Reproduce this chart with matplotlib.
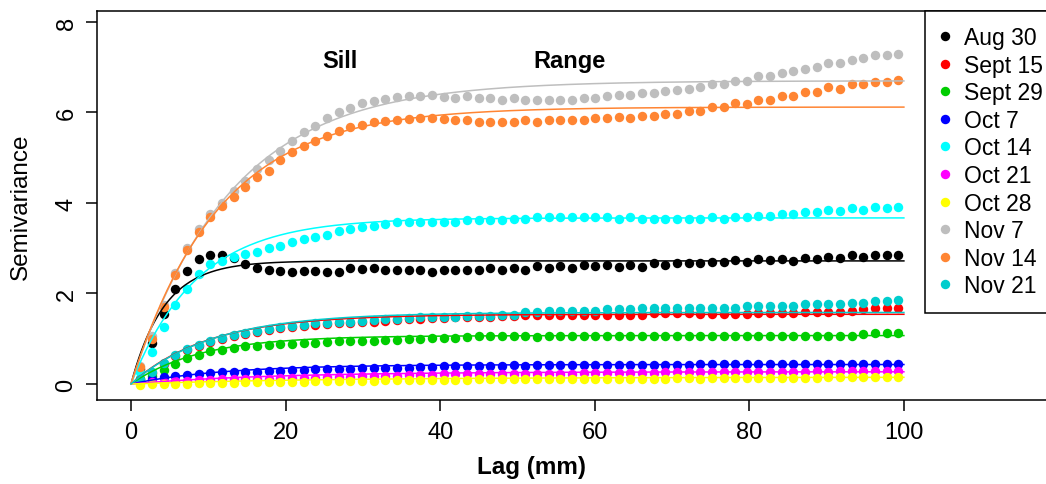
import numpy as np
import matplotlib
matplotlib.use('Agg')
import matplotlib.pyplot as plt
from matplotlib.lines import Line2D

plt.rcParams['font.family'] = ['Liberation Sans', 'DejaVu Sans']

# lag bins (mm), 66 bins
lag = np.linspace(1.2, 99.3, 66)

labels = ['Aug 30', 'Sept 15', 'Sept 29', 'Oct 7', 'Oct 14',
          'Oct 21', 'Oct 28', 'Nov 7', 'Nov 14', 'Nov 21']
colors = ['black', '#ff0000', '#00cd00', '#0000ff', '#00ffff',
          '#ff00ff', '#ffff00', '#bebebe', '#ff8533', '#00cdcd']

aug30 = [0.33, 0.90, 1.55, 2.11, 2.50, 2.77, 2.86, 2.86, 2.78, 2.65,
         2.56, 2.53, 2.50, 2.47, 2.49, 2.49, 2.47, 2.48, 2.56, 2.54,
         2.56, 2.53, 2.53, 2.53, 2.53, 2.48, 2.53, 2.53, 2.53, 2.53,
         2.56, 2.53, 2.56, 2.53, 2.60, 2.56, 2.60, 2.56, 2.63, 2.60,
         2.63, 2.59, 2.63, 2.59, 2.67, 2.63, 2.67, 2.67, 2.68, 2.70,
         2.69, 2.73, 2.69, 2.76, 2.73, 2.76, 2.71, 2.78, 2.76, 2.81,
         2.78, 2.85, 2.81, 2.85, 2.85, 2.85]
sept15 = [0.10, 0.25, 0.45, 0.62, 0.74, 0.84, 0.92, 0.99, 1.05, 1.10,
          1.15, 1.20, 1.23, 1.26, 1.28, 1.31, 1.33, 1.34, 1.35, 1.37,
          1.38, 1.40, 1.42, 1.43, 1.44, 1.45, 1.46, 1.47, 1.47, 1.48,
          1.49, 1.50, 1.51, 1.52, 1.52, 1.52, 1.52, 1.53, 1.53, 1.53,
          1.53, 1.53, 1.53, 1.53, 1.56, 1.56, 1.56, 1.56, 1.55, 1.55,
          1.55, 1.55, 1.55, 1.57, 1.57, 1.57, 1.57, 1.60, 1.60, 1.60,
          1.60, 1.62, 1.66, 1.67, 1.67, 1.67]
sept29 = [0.10, 0.18, 0.30, 0.44, 0.57, 0.65, 0.72, 0.76, 0.80, 0.83,
          0.85, 0.87, 0.88, 0.89, 0.90, 0.91, 0.92, 0.94, 0.94, 0.96,
          0.96, 0.98, 0.98, 0.99, 0.99, 1.01, 1.01, 1.01, 1.03, 1.05,
          1.05, 1.05, 1.05, 1.06, 1.04, 1.06, 1.06, 1.06, 1.06, 1.07,
          1.06, 1.07, 1.06, 1.07, 1.06, 1.07, 1.06, 1.07, 1.07, 1.07,
          1.07, 1.07, 1.07, 1.07, 1.07, 1.07, 1.07, 1.07, 1.07, 1.07,
          1.07, 1.07, 1.11, 1.12, 1.12, 1.12]
oct7 = [0.05, 0.11, 0.15, 0.18, 0.20, 0.22, 0.24, 0.26, 0.26, 0.27,
        0.27, 0.29, 0.29, 0.31, 0.31, 0.33, 0.33, 0.34, 0.34, 0.35,
        0.35, 0.35, 0.36, 0.36, 0.37, 0.37, 0.39, 0.39, 0.39, 0.40,
        0.40, 0.40, 0.41, 0.40, 0.41, 0.41, 0.41, 0.41, 0.43, 0.43,
        0.43, 0.43, 0.43, 0.43, 0.43, 0.43, 0.43, 0.43, 0.44, 0.44,
        0.44, 0.44, 0.44, 0.44, 0.44, 0.44, 0.44, 0.44, 0.44, 0.45,
        0.44, 0.44, 0.44, 0.45, 0.44, 0.45]
oct14 = [0.26, 0.70, 1.25, 1.75, 2.10, 2.43, 2.65, 2.72, 2.80, 2.87,
         2.92, 3.00, 3.06, 3.13, 3.20, 3.24, 3.29, 3.37, 3.43, 3.48,
         3.50, 3.54, 3.57, 3.57, 3.59, 3.59, 3.59, 3.59, 3.63, 3.62,
         3.62, 3.62, 3.65, 3.65, 3.68, 3.68, 3.68, 3.68, 3.68, 3.68,
         3.68, 3.65, 3.68, 3.65, 3.65, 3.65, 3.65, 3.65, 3.65, 3.68,
         3.65, 3.68, 3.68, 3.72, 3.72, 3.76, 3.76, 3.79, 3.79, 3.85,
         3.82, 3.88, 3.85, 3.92, 3.88, 3.92]
oct21 = [0.02, 0.04, 0.05, 0.06, 0.07, 0.08, 0.09, 0.10, 0.10, 0.11,
         0.12, 0.12, 0.13, 0.13, 0.14, 0.14, 0.15, 0.15, 0.16, 0.17,
         0.17, 0.18, 0.18, 0.19, 0.20, 0.20, 0.21, 0.21, 0.22, 0.22,
         0.22, 0.23, 0.22, 0.23, 0.22, 0.23, 0.23, 0.23, 0.25, 0.24,
         0.25, 0.24, 0.25, 0.25, 0.25, 0.26, 0.26, 0.26, 0.27, 0.27,
         0.27, 0.27, 0.27, 0.27, 0.27, 0.27, 0.27, 0.27, 0.29, 0.27,
         0.29, 0.29, 0.29, 0.29, 0.29, 0.29]
oct28 = [-0.03, -0.01, 0.00, 0.01, 0.01, 0.02, 0.02, 0.03, 0.03, 0.04,
         0.04, 0.04, 0.05, 0.05, 0.05, 0.06, 0.06, 0.06, 0.07, 0.07,
         0.07, 0.08, 0.08, 0.08, 0.08, 0.09, 0.09, 0.09, 0.09, 0.10,
         0.10, 0.10, 0.10, 0.10, 0.11, 0.11, 0.11, 0.11, 0.11, 0.12,
         0.12, 0.12, 0.12, 0.12, 0.12, 0.12, 0.13, 0.13, 0.12, 0.13,
         0.13, 0.13, 0.13, 0.13, 0.14, 0.14, 0.14, 0.14, 0.14, 0.15,
         0.15, 0.15, 0.15, 0.15, 0.15, 0.15]
nov7 = [0.40, 1.05, 1.75, 2.45, 3.00, 3.42, 3.76, 4.01, 4.27, 4.49,
        4.75, 4.94, 5.16, 5.36, 5.56, 5.71, 5.87, 6.00, 6.11, 6.21,
        6.26, 6.30, 6.34, 6.36, 6.37, 6.39, 6.34, 6.32, 6.36, 6.32,
        6.31, 6.28, 6.32, 6.28, 6.28, 6.28, 6.28, 6.28, 6.32, 6.32,
        6.36, 6.39, 6.39, 6.43, 6.43, 6.47, 6.50, 6.52, 6.56, 6.62,
        6.62, 6.70, 6.70, 6.80, 6.80, 6.87, 6.91, 6.96, 7.00, 7.09,
        7.09, 7.17, 7.20, 7.26, 7.26, 7.29]
nov14 = [0.37, 1.00, 1.70, 2.40, 2.95, 3.35, 3.68, 3.94, 4.13, 4.35,
         4.57, 4.71, 4.94, 5.12, 5.27, 5.38, 5.49, 5.58, 5.67, 5.72,
         5.78, 5.82, 5.84, 5.86, 5.88, 5.88, 5.86, 5.84, 5.84, 5.80,
         5.80, 5.80, 5.80, 5.84, 5.80, 5.84, 5.84, 5.84, 5.84, 5.88,
         5.88, 5.91, 5.88, 5.93, 5.93, 5.97, 5.97, 6.03, 6.03, 6.13,
         6.13, 6.22, 6.19, 6.28, 6.28, 6.36, 6.36, 6.46, 6.45, 6.56,
         6.52, 6.62, 6.62, 6.68, 6.68, 6.72]
nov21 = [0.10, 0.27, 0.47, 0.64, 0.77, 0.87, 0.95, 1.02, 1.08, 1.13,
         1.18, 1.22, 1.26, 1.29, 1.31, 1.34, 1.34, 1.36, 1.38, 1.40,
         1.42, 1.43, 1.44, 1.46, 1.47, 1.47, 1.48, 1.49, 1.50, 1.50,
         1.51, 1.52, 1.52, 1.58, 1.58, 1.61, 1.61, 1.61, 1.62, 1.62,
         1.66, 1.66, 1.66, 1.67, 1.69, 1.69, 1.69, 1.69, 1.69, 1.69,
         1.69, 1.69, 1.73, 1.73, 1.73, 1.73, 1.73, 1.77, 1.77, 1.77,
         1.77, 1.79, 1.79, 1.84, 1.84, 1.86]

series = [aug30, sept15, sept29, oct7, oct14, oct21, oct28, nov7, nov14, nov21]

# fitted exponential variogram models: sill and range parameter
sills = [2.72, 1.54, 1.07, 0.43, 3.67, 0.27, 0.15, 6.70, 6.12, 1.58]
ranges = [4.3, 10.0, 9.0, 12.0, 8.5, 18.0, 25.0, 12.8, 11.3, 10.5]

fig = plt.figure(figsize=(10.46, 4.85), dpi=100)
W, H = 1046, 485
ax = fig.add_axes([97 / W, 1 - 401 / H, (1060 - 97) / W, (401 - 12) / H])

for vals, c in zip(series, colors):
    ax.plot(lag, vals, 'o', color=c, markersize=6.8, markeredgewidth=0, zorder=2)

h = np.linspace(0, 100, 300)
for s, a, c in zip(sills, ranges, colors):
    ax.plot(h, s * (1 - np.exp(-h / a)), '-', color=c, linewidth=1.1, zorder=3)

ax.set_xlim(-4.4, 120.2)
ax.set_ylim(-0.354, 8.243)
ax.set_xticks([0, 20, 40, 60, 80, 100])
ax.set_yticks([0, 2, 4, 6, 8])
ax.tick_params(direction='out', length=8, width=1.1, labelsize=17)
ax.tick_params(axis='x', pad=7)
ax.tick_params(axis='y', pad=6)
for t in ax.get_yticklabels():
    t.set_rotation(90)
    t.set_va('center')
for sp in ax.spines.values():
    sp.set_linewidth(1.1)

ax.set_xlabel('Lag (mm)', fontsize=17.5, fontweight='bold', va='center')
ax.xaxis.set_label_coords(0.4507, -0.1697)
ax.set_ylabel('Semivariance', fontsize=17.5, va='center', ha='center')
ax.yaxis.set_label_coords(-0.0789, 0.5)

ax.text(27.0, 7.14, 'Sill', fontsize=17, fontweight='bold', ha='center', va='center')
ax.text(56.8, 7.14, 'Range', fontsize=17, fontweight='bold', ha='center', va='center')

handles = [Line2D([], [], linestyle='none', marker='o', color=c,
                  markersize=6.8, markeredgewidth=0) for c in colors]
leg = ax.legend(handles, labels, loc='upper left',
                bbox_to_anchor=(925 / W, 1 - 12 / H), bbox_transform=fig.transFigure,
                borderaxespad=0, fontsize=16.5, frameon=True, fancybox=False,
                edgecolor='black', framealpha=1, handlelength=0.4,
                handletextpad=0.62, borderpad=0.66, labelspacing=0.2,
                numpoints=1)
leg.get_frame().set_linewidth(1.1)

fig.savefig('out.png', dpi=100)
